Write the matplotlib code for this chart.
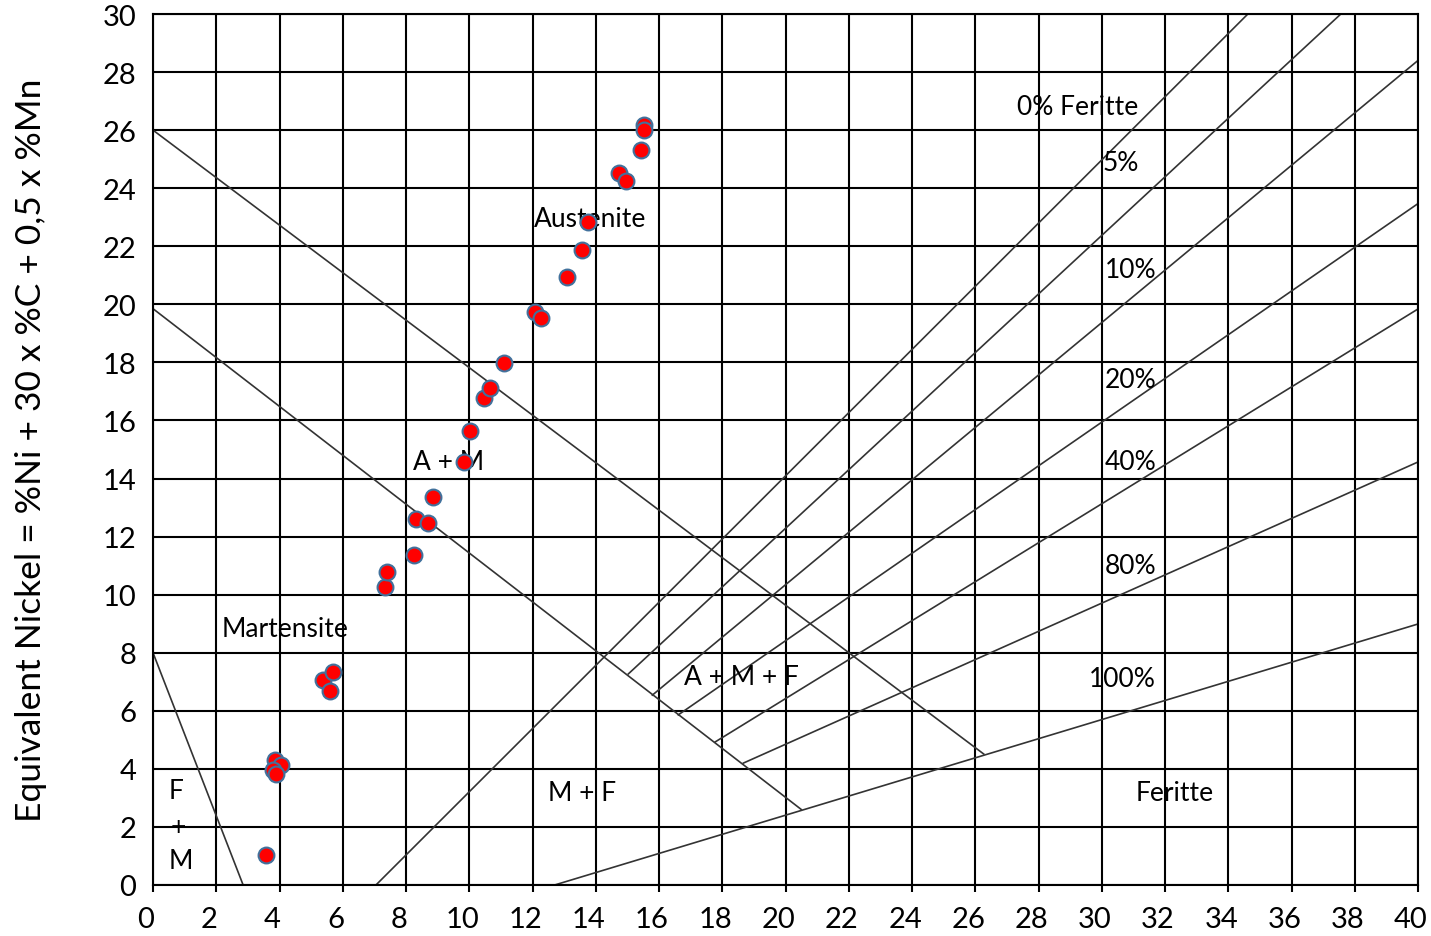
import matplotlib
matplotlib.use("Agg")
import matplotlib.pyplot as plt
from matplotlib.transforms import ScaledTranslation

# --- data ---
cr_eq = [3.58, 3.85, 4.05, 3.80, 3.90,
         5.37, 5.69, 5.60,
         7.34, 7.41, 8.24, 8.32, 8.71, 8.85, 9.84, 10.01, 10.47, 10.66, 11.09,
         12.09, 12.27, 13.08, 13.58, 13.74, 14.72, 14.96, 15.44, 15.54, 15.52]
ni_eq = [1.04, 4.30, 4.12, 3.95, 3.82,
         7.07, 7.32, 6.69,
         10.25, 10.77, 11.38, 12.61, 12.46, 13.35, 14.56, 15.62, 16.78, 17.12, 17.97,
         19.73, 19.53, 20.95, 21.88, 22.83, 24.53, 24.26, 25.32, 26.16, 26.02]

# phase boundary lines (x0, y0, x1, y1)
boundary_lines = {
    "F+M": (0.0, 8.0, 2.85, 0.0),
    "A/A+M": (0.0, 26.0, 26.27, 4.51),
    "A+M/M": (0.0, 19.85, 20.5, 2.6),
}
# iso-ferrite lines (x0, y0, x1, y1)
ferrite_lines = {
    "0%": (7.05, 0.0, 34.62, 30.0),
    "5%": (15.03, 7.27, 37.56, 30.0),
    "10%": (15.79, 6.54, 40.0, 28.4),
    "20%": (16.61, 5.86, 40.0, 23.47),
    "40%": (17.78, 4.93, 40.0, 19.84),
    "80%": (18.67, 4.20, 40.0, 14.57),
    "100%": (12.70, 0.0, 40.0, 8.99),
}

# region / line labels (text, x, y)
labels = [
    ("0% Feritte", 29.24, 26.8),
    ("5%", 30.6, 24.9),
    ("10%", 30.9, 21.2),
    ("20%", 30.9, 17.4),
    ("40%", 30.9, 14.6),
    ("80%", 30.9, 11.0),
    ("100%", 30.66, 7.1),
    ("Feritte", 32.3, 3.2),
    ("Austenite", 13.83, 22.94),
    ("A + M", 9.34, 14.57),
    ("Martensite", 4.18, 8.82),
    ("A + M + F", 18.6, 7.17),
    ("M + F", 13.58, 3.2),
    ("F", 0.73, 3.24),
    ("+", 0.79, 2.0),
    ("M", 0.89, 0.86),
]

x_ticks = list(range(0, 41, 2))
y_ticks = list(range(0, 31, 2))

plt.rcParams['font.family'] = ['Lato', 'DejaVu Sans']

fig = plt.figure(figsize=(14.31, 9.37), dpi=100)
ax = fig.add_axes([153 / 1431, 1 - 886 / 937, (1418 - 153) / 1431, (886 - 15) / 937])

ax.set_xlim(0, 40)
ax.set_ylim(0, 30)
ax.set_xticks(x_ticks)
ax.set_yticks(y_ticks)
ax.grid(True, color='black', linewidth=1.5, zorder=0)
ax.set_axisbelow(True)

for x0, y0, x1, y1 in boundary_lines.values():
    ax.plot([x0, x1], [y0, y1], color='#333333', linewidth=1.2, zorder=1)
for x0, y0, x1, y1 in ferrite_lines.values():
    ax.plot([x0, x1], [y0, y1], color='#333333', linewidth=1.2, zorder=1)

for txt, x, y in labels:
    ax.text(x, y, txt, fontsize=19, ha='center', va='center', color='black', zorder=2)

ax.scatter(cr_eq, ni_eq, s=130, color='#ff0000', edgecolors='#41719c',
           linewidths=1.5, zorder=3, clip_on=False)

ax.set_ylabel('Equivalent Nickel = %Ni + 30 x %C + 0,5 x %Mn', fontsize=25.5)
ax.yaxis.set_label_coords(-0.084, 0.5)
ax.tick_params(axis='x', labelsize=21, length=5, width=1.5, pad=10)
ax.tick_params(axis='y', labelsize=21, length=0, pad=12)
# the scanned labels sit a little left of the grid lines
shift = ScaledTranslation(-7 / 100, 0, fig.dpi_scale_trans)
for lbl in ax.get_xticklabels():
    lbl.set_transform(lbl.get_transform() + shift)
for sp in ax.spines.values():
    sp.set_linewidth(1.5)
    sp.set_color('black')

plt.savefig('out.png', dpi=100)
